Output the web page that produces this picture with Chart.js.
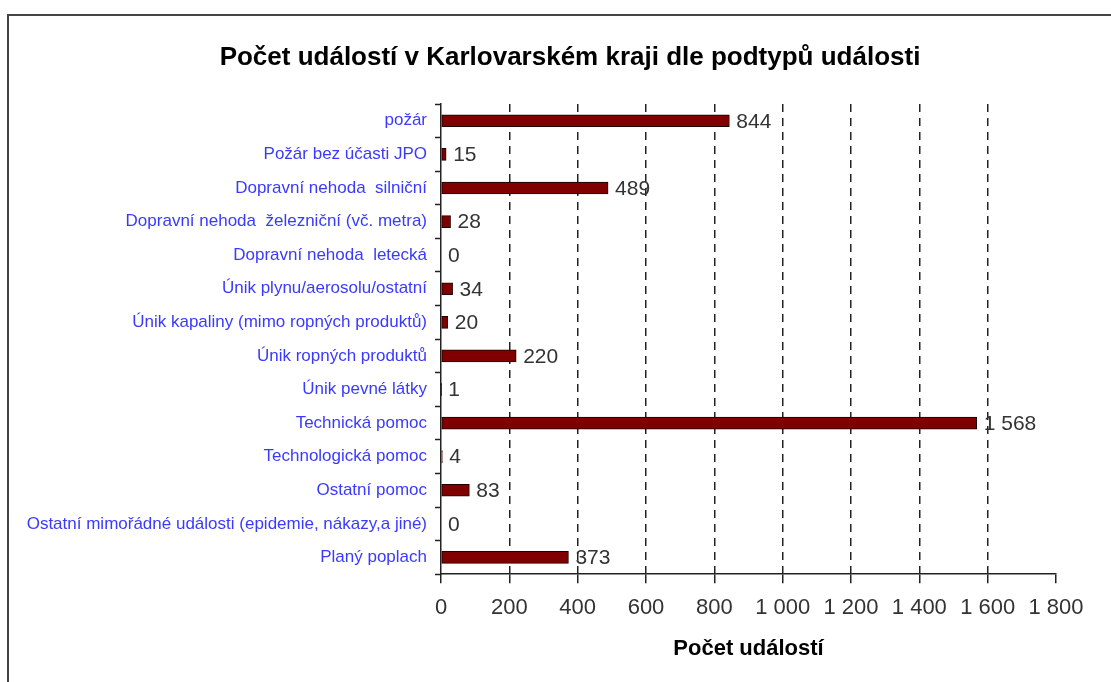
<!DOCTYPE html>
<html>
<head>
<meta charset="utf-8">
<script src="https://cdn.jsdelivr.net/npm/chart.js@4"></script>
<style>
    body { margin: 0; background: #fff; overflow: hidden; }
    #wrap { position: relative; width: 1111px; height: 682px; }
    #frame { position: absolute; left: 7px; top: 14px; width: 1200px; height: 800px; border: 2px solid #444; }
    canvas { position: absolute; left: 0; top: 0; }
</style>
</head>
<body>
<div id="wrap">
    <div id="frame"></div>
    <canvas id="chart" width="1111" height="682"></canvas>
</div>
<script>
// kategorie (podtypy událostí)
const categories = [
    "požár",
    "Požár bez účasti JPO",
    "Dopravní nehoda  silniční",
    "Dopravní nehoda  železniční (vč. metra)",
    "Dopravní nehoda  letecká",
    "Únik plynu/aerosolu/ostatní",
    "Únik kapaliny (mimo ropných produktů)",
    "Únik ropných produktů",
    "Únik pevné látky",
    "Technická pomoc",
    "Technologická pomoc",
    "Ostatní pomoc",
    "Ostatní mimořádné události (epidemie, nákazy,a jiné)",
    "Planý poplach"
];
const counts = [844, 15, 489, 28, 0, 34, 20, 220, 1, 1568, 4, 83, 0, 373];
const xTicks = [0, 200, 400, 600, 800, 1000, 1200, 1400, 1600, 1800];
const chartTitle = "Počet událostí v Karlovarském kraji dle podtypů události";
const axisTitle = "Počet událostí";

// 1568 -> "1 568"
const fmt = v => String(v).replace(/\B(?=(\d{3})+(?!\d))/g, " ");

// titulek grafu
const titlePlugin = {
    id: "topTitle",
    afterDraw(chart) {
        const ctx = chart.ctx;
        ctx.save();
        ctx.font = "bold 26px 'Liberation Sans', Arial, sans-serif";
        ctx.fillStyle = "#000";
        ctx.textAlign = "center";
        ctx.textBaseline = "middle";
        ctx.fillText(chartTitle, 570, 58);
        ctx.restore();
    }
};

// hodnoty vedle sloupců
const valueLabels = {
    id: "valueLabels",
    afterDatasetsDraw(chart) {
        const ctx = chart.ctx;
        const meta = chart.getDatasetMeta(0);
        ctx.save();
        ctx.font = "21px 'Liberation Sans', Arial, sans-serif";
        ctx.fillStyle = "#333";
        ctx.textAlign = "left";
        ctx.textBaseline = "middle";
        meta.data.forEach((bar, i) => {
            ctx.fillText(fmt(counts[i]), bar.x + 7, bar.y + 1);
        });
        ctx.restore();
    }
};

const ctx = document.getElementById("chart").getContext("2d");
new Chart(ctx, {
    type: "bar",
    data: {
        labels: categories,
        datasets: [{
            data: counts,
            backgroundColor: "#800000",
            borderColor: "#1a0000",
            borderWidth: 1,
            borderSkipped: false,
            barThickness: 12
        }]
    },
    options: {
        indexAxis: "y",
        responsive: false,
        animation: false,
        layout: {
            padding: { top: 104, left: 0, right: 55, bottom: 20 }
        },
        plugins: {
            legend: { display: false },
            tooltip: { enabled: false },
            title: { display: false }
        },
        scales: {
            x: {
                min: 0,
                max: 1800,
                afterBuildTicks: scale => {
                    scale.ticks = xTicks.map(v => ({ value: v }));
                },
                ticks: {
                    color: "#333",
                    font: { size: 22, family: "'Liberation Sans', Arial, sans-serif" },
                    padding: 12,
                    maxRotation: 0,
                    callback: v => fmt(v)
                },
                grid: {
                    color: c => (c.tick && (c.tick.value === 0 || c.tick.value === 1800)) ? "rgba(0,0,0,0)" : "#222",
                    lineWidth: 1.5,
                    tickColor: "#222",
                    tickLength: 9,
                    tickWidth: 1.5
                },
                border: { color: "#222", width: 1.5, dash: [8, 6] },
                title: {
                    display: true,
                    text: axisTitle,
                    color: "#000",
                    font: { size: 22, weight: "bold", family: "'Liberation Sans', Arial, sans-serif" },
                    padding: { top: 2, bottom: 0 }
                }
            },
            y: {
                afterFit: scale => { scale.width = 441; },
                ticks: {
                    color: "#3a3aff",
                    font: { size: 17, family: "'Liberation Sans', Arial, sans-serif" },
                    padding: 8,
                    autoSkip: false
                },
                grid: {
                    drawOnChartArea: false,
                    offset: true,
                    tickColor: "#222",
                    tickLength: 6,
                    tickWidth: 1.5
                },
                border: { color: "#222", width: 1.5 }
            }
        }
    },
    plugins: [titlePlugin, valueLabels]
});
</script>
</body>
</html>
